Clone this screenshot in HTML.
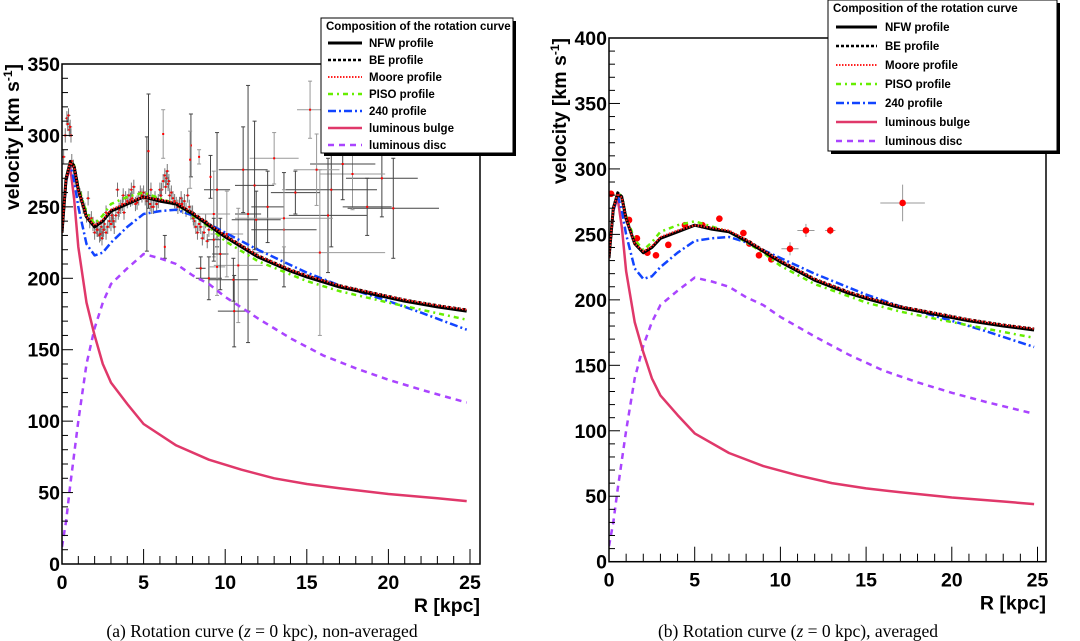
<!DOCTYPE html>
<html><head><meta charset="utf-8">
<style>
html,body{margin:0;padding:0;background:#fff;}
body{width:1080px;height:641px;overflow:hidden;position:relative;font-family:"Liberation Sans",sans-serif;}
svg{position:absolute;left:0;top:0;}
.tk{font-weight:bold;font-size:19.5px;fill:#000;}
.lg{font-weight:bold;font-size:11.5px;fill:#000;}
.cap{font-family:"Liberation Serif",serif;font-size:17.5px;fill:#000;}
</style></head>
<body>
<svg id="chart" width="1080" height="641" viewBox="0 0 1080 641"></svg>
<script>
// ---------- data ----------
const nfwR = [0,0.25,0.5,0.75,1,1.5,2,2.5,3,4,5,6,7,8,9,10,11,12,13,14,15,17,19,21,23,24.8];
const nfwV = [232,270,281,278,262,243,236,240,247,252,257,254,252,245,237,229,222,215,210,205,201,194,189,184,180,177];
const beV  = [232,270,282,279,263,243,236,240,247,252,257,255,252,246,238,230,223,216,211,206,202,195,190,185,181,178];
const mooreV=[232,270,281,278,262,243,237,241,248,253,257,255,253,246,238,230,223,216,211,206,202,195,190,185,181,178];
const pisoR = [0,0.25,0.5,0.75,1,1.5,2,2.5,3,4,5,6,7,8,9,10,12,15,17,20,22,24.8];
const pisoV = [232,270,282,279,264,246,238,244,252,257,260,256,252,244,236,226,212,198,191,183,178,171];
const h240R = [0,0.25,0.5,0.75,1,1.5,2,2.5,3,4,5,6,7,8,9,10,12,15,17,20,22,24.8];
const h240V = [232,268,280,268,250,224,216,218,225,236,245,247,248,244,238,232,220,204,195,184,176,164];
const bulgeR= [0,0.25,0.5,0.75,1,1.5,2,2.5,3,4,5,7,9,11,13,15,17,20,23,24.8];
const bulgeV= [232,268,278,255,222,183,160,140,127,112,98,83,73,66,60,56,53,49,46,44];
const discR = [0,0.25,0.5,1,1.5,2,2.5,3,4,5,6,7,8,9,10,12,14,16,18,20,22,24.8];
const discV = [12,30,55,100,140,165,183,196,207,217,214,210,202,196,187,172,158,146,137,129,122,113];

// left panel (non-averaged) data
const innerR=[0.1,0.2,0.3,0.35,0.4,0.45,0.5,0.55,0.6,0.7,0.8,0.9,1.0,1.1,1.2,1.3,1.5,1.7,1.9,2.0,2.1,2.2,2.3,2.4,2.5,2.6,2.7,2.8,3.0,3.1,3.2,3.3,3.5,3.6,3.8,4.0,4.1,4.3,4.5,4.7,4.9,5.0,5.1,5.3,5.5,5.7,5.9,6.1,6.2,6.3,6.4,6.5,6.6,6.8,7.0,7.1,7.3,7.5,7.6,7.8,8.0,8.1,8.3,8.5,8.6,8.8,9.0,1.6,2.7,3.4,4.4,5.6,6.0,7.7,
 1.4,1.8,2.15,2.35,2.55,2.9,3.15,3.45,3.7,3.9,4.2,4.6,4.8,5.2,5.4,5.8,6.05,6.35,6.45,6.7,6.9,7.2,7.4,7.9,8.2,8.4,8.7,8.9,2.45,3.05,3.75,4.25,5.45,6.55,7.35,8.05];
const innerV=[285,300,312,308,314,304,306,300,282,278,270,268,262,258,256,250,244,240,238,232,236,234,230,236,232,238,232,236,238,242,236,244,248,250,246,254,258,256,252,256,258,260,256,258,250,256,254,262,268,272,270,266,258,256,252,250,256,254,248,250,246,240,232,236,228,240,234,256,246,262,264,250,262,258,
 248,242,234,231,234,240,240,246,252,256,255,253,260,254,252,252,258,264,275,260,254,252,250,246,236,238,232,226,228,244,258,262,262,268,252,242];
const outR=[15.2,19.6,20.3,17.8,16.5,16.3,15.8,14.3,13.6,13.0,11.8,11.4,10.8,10.55,9.5,9.3,8.5,9.0,9.5,9.7,9.3,10.1,11.9,12.6,13.6,11.1,17.2,6.2,5.3,7.9,8.4,6.3,5.2,7.85,9.1,10.5,15.6,18.7];
const outV=[318,270,249,273,262,244,218,260,234,284,265,245,209,177,262,245,207,200,208,217,227,231,241,250,242,276,280,301,289,293,285,222,259,283,271,199,276,250];
const outEx=[0.8,2.2,2.8,2.0,2.8,2.4,4.0,1.5,2.0,1.5,1.2,0.8,1.5,1.0,0.8,1.0,0.3,0.8,0.5,0.5,0.4,1.0,1.5,1.0,3.0,1.5,2.0,0,0,0,0,0,0,0,0,1.5,1.4,1.5];
const outEy=[20,27,35,25,40,40,58,15,40,18,45,90,40,25,40,30,8,15,20,25,15,30,20,25,20,30,25,17,40,22,5,8,40,20,15,15,25,20];

// right panel (averaged) data
const avgR=[0.12,1.17,1.63,2.24,2.74,3.46,4.43,5.45,6.44,7.84,8.19,8.75,9.47,10.56,11.49,12.91,17.13];
const avgV=[281,261,247,236,234,242,257,257,262,251,243,234,231,239,253,253,274];
const avgEx=[0,0,0,0,0,0,0,0,0,0,0,0,0,0.5,0.5,0.3,1.3];
const avgEy=[0,0,0,0,0,0,0,0,0,0,0,0,0,5,5,3,14];

const xTicks=[0,5,10,15,20,25];
const yTicksL=[0,50,100,150,200,250,300,350];
const yTicksR=[0,50,100,150,200,250,300,350,400];

// ---------- drawing ----------
const NS='http://www.w3.org/2000/svg';
const svg=document.getElementById('chart');
function mk(tag,attrs,parent){const e=document.createElementNS(NS,tag);for(const k in attrs)e.setAttribute(k,attrs[k]);(parent||svg).appendChild(e);return e;}

const series=[
 {name:'luminous-disc',R:discR,V:discV,c:'#aa44ff',w:2.5,d:'6,5'},
 {name:'luminous-bulge',R:bulgeR,V:bulgeV,c:'#e0386a',w:2.5,d:''},
 {name:'240-profile',R:h240R,V:h240V,c:'#1144ff',w:2.5,d:'8,3,2,3'},
 {name:'piso-profile',R:pisoR,V:pisoV,c:'#66ee00',w:2.5,d:'5,4,2,4'},
 {name:'nfw-profile',R:nfwR,V:nfwV,c:'#000',w:3,d:''},
 {name:'be-profile',R:nfwR,V:beV,c:'#000',w:2.5,d:'3,2'},
 {name:'moore-profile',R:nfwR,V:mooreV,c:'#ff2020',w:2,d:'1.5,1.5'}
];

function panel(P){
  const g=mk('g',{});
  
  
  const X=r=>P.x0+r*(P.x25-P.x0)/25;
  const Y=v=>P.yb-(v)*(P.yb-P.yt)/P.vmax;
  const clip='clip-'+P.name;
  const cp=mk('clipPath',{id:clip},g);mk('rect',{x:P.x0,y:P.yt,width:P.xr-P.x0,height:P.yb-P.yt},cp);
  const pg=mk('g',{'clip-path':'url(#'+clip+')'},g);
  
  
  if(P.kind==='raw'){
    for(let i=0;i<innerR.length;i++){
      const x=X(innerR[i]),y=Y(innerV[i]);
      mk('line',{x1:x,x2:x,y1:Y(innerV[i]+5),y2:Y(innerV[i]-5),stroke:'#777','stroke-width':1},pg);
      mk('line',{x1:x-2,x2:x+2,y1:y,y2:y,stroke:'#777','stroke-width':1},pg);
      const p=mk('rect',{x:x-1,y:y-1,width:2,height:2,fill:'#f00'},pg);
      
      
    }
    for(let i=0;i<outR.length;i++){
      const x=X(outR[i]),y=Y(outV[i]);
      const col=i%3===0?'#999':'#444';
      mk('line',{x1:x,x2:x,y1:Y(outV[i]+outEy[i]),y2:Y(outV[i]-outEy[i]),stroke:col,'stroke-width':1},pg);
      if(outEx[i]>0)mk('line',{x1:X(outR[i]-outEx[i]),x2:X(outR[i]+outEx[i]),y1:y,y2:y,stroke:col,'stroke-width':1},pg);
      mk('line',{x1:x-2,x2:x+2,y1:Y(outV[i]+outEy[i]),y2:Y(outV[i]+outEy[i]),stroke:col},pg);
      mk('line',{x1:x-2,x2:x+2,y1:Y(outV[i]-outEy[i]),y2:Y(outV[i]-outEy[i]),stroke:col},pg);
      const p=mk('rect',{x:x-1,y:y-1,width:2,height:2,fill:'#f00'},pg);
      
      
    }
  }
  for(const s of series){
    const pts=s.R.map((r,i)=>X(r).toFixed(1)+','+Y(s.V[i]).toFixed(1)).join(' ');
    const pl=mk('polyline',{points:pts,fill:'none',stroke:s.c,'stroke-width':s.w,'stroke-dasharray':s.d,'stroke-linejoin':'round','clip-path':'url(#'+clip+')'},g);
    
    
  }
  if(P.kind==='avg'){
    for(let i=0;i<avgR.length;i++){
      const x=X(avgR[i]),y=Y(avgV[i]);
      if(avgEy[i]>0){
        mk('line',{x1:x,x2:x,y1:Y(avgV[i]+avgEy[i]),y2:Y(avgV[i]-avgEy[i]),stroke:'#999'},pg);
        mk('line',{x1:X(avgR[i]-avgEx[i]),x2:X(avgR[i]+avgEx[i]),y1:y,y2:y,stroke:'#999'},pg);
      }
      const p=mk('circle',{cx:x,cy:y,r:3.3,fill:'#f00'},pg);
      
      
    }
  }
  mk('rect',{x:P.x0,y:P.yt,width:P.xr-P.x0,height:P.yb-P.yt,fill:'none',stroke:'#000','stroke-width':1.5},g);
  for(let v=0;v<=P.vmax;v+=10){const y=Y(v);const maj=v%50===0;
    mk('line',{x1:P.x0,x2:P.x0+(maj?11:6),y1:y,y2:y,stroke:'#000','stroke-width':1},g);}
  for(const v of P.yt_){const t=mk('text',{x:P.x0-2,y:Y(v)+7,'text-anchor':'end',class:'tk'},g);t.textContent=v;
    }
  for(let r=0;r<=25;r++){const x=X(r);const maj=r%5===0;
    mk('line',{x1:x,x2:x,y1:P.yb,y2:P.yb-(maj?15:8),stroke:'#000','stroke-width':1},g);}
  for(const r of xTicks){const t=mk('text',{x:X(r),y:P.yb+25,'text-anchor':'middle',class:'tk'},g);t.textContent=r;
    }
  const xt=mk('text',{x:P.xr,y:P.yb+48,'text-anchor':'end',class:'tk'},g);xt.textContent='R [kpc]';
  
  const yt=mk('text',{transform:'translate('+P.ytx+','+P.yty+') rotate(-90)','text-anchor':'end',class:'tk'},g);
  yt.innerHTML='velocity [km s<tspan dy="-7" font-size="12">-1</tspan><tspan dy="7">]</tspan>';
  
  const cap=mk('text',{x:P.capx,y:637,'text-anchor':'middle',class:'cap'},g);
  cap.innerHTML=P.cap;
  
  const L=P.leg;
  const lg=mk('g',{},g);
  
  mk('rect',{x:L.x+3,y:L.y+3,width:L.w,height:L.h,fill:'#000'},lg);
  mk('rect',{x:L.x,y:L.y,width:L.w,height:L.h,fill:'#fff',stroke:'#000','stroke-width':1},lg);
  const tt=mk('text',{x:L.x+5,y:L.y+L.t,class:'lg'},lg);tt.textContent='Composition of the rotation curve';
  const names=['NFW profile','BE profile','Moore profile','PISO profile','240 profile','luminous bulge','luminous disc'];
  const ord=[4,5,6,3,2,1,0];
  for(let i=0;i<7;i++){const s=series[ord[i]];const y=L.y+L.t+L.dy*(i+1)-4;
    mk('line',{x1:L.sx,x2:L.sx+L.sw,y1:y,y2:y,stroke:s.c,'stroke-width':s.w,'stroke-dasharray':s.d},lg);
    const e=mk('text',{x:L.tx,y:y+4,class:'lg'},lg);e.textContent=names[i];
    }
}
panel({name:'panel-non-averaged',kind:'raw',x0:62,x25:470,xr:480,yt:64,yb:564,vmax:350,yt_:yTicksL,ytx:19,yty:64,capx:262,
  cap:'(a)  Rotation curve (<tspan font-style="italic">z</tspan> = 0 kpc), non-averaged',
  leg:{x:321,y:18,w:192,h:135,t:12,dy:17,sx:328,sw:34,tx:369}});
panel({name:'panel-averaged',kind:'avg',x0:609,x25:1037.5,xr:1046,yt:38,yb:561.7,vmax:400,yt_:yTicksR,ytx:566,yty:38,capx:798,
  cap:'(b)  Rotation curve (<tspan font-style="italic">z</tspan> = 0 kpc), averaged',
  leg:{x:828,y:0,w:229,h:151,t:12,dy:19,sx:836,sw:41,tx:885}});
</script>
</body></html>
